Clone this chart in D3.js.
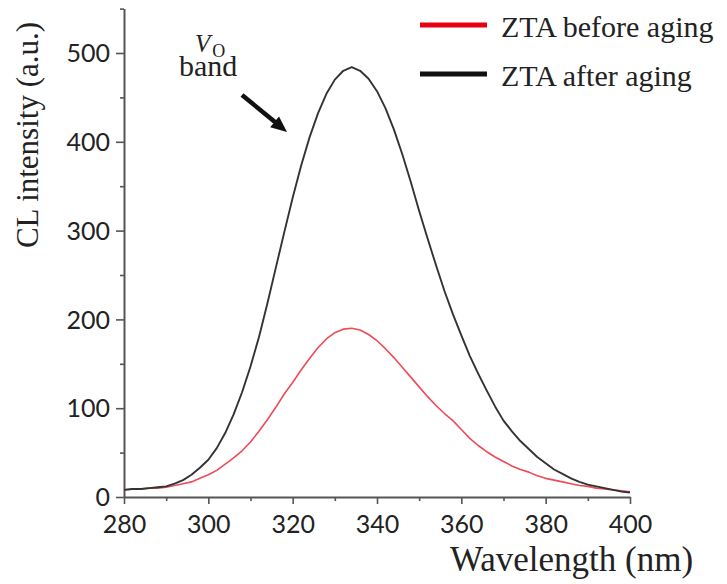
<!DOCTYPE html>
<html>
<head>
<meta charset="utf-8">
<script src="https://cdn.jsdelivr.net/npm/d3@7"></script>
<style>
  html, body { margin: 0; padding: 0; background: #fff; }
  svg { display: block; }
</style>
</head>
<body>
<svg id="chart" width="727" height="584"></svg>
<script>
// Cathodoluminescence spectra of ZTA, sampled every 2 nm
const wavelengths = [
  280, 282, 284, 286, 288, 290, 292, 294, 296, 298,
  300, 302, 304, 306, 308, 310, 312, 314, 316, 318,
  320, 322, 324, 326, 328, 330, 332, 334, 336, 338,
  340, 342, 344, 346, 348, 350, 352, 354, 356, 358,
  360, 362, 364, 366, 368, 370, 372, 374, 376, 378,
  380, 382, 384, 386, 388, 390, 392, 394, 396, 398,
  400
];
const beforeAging = [
  8, 9, 9, 10, 10, 11, 13, 15, 17, 21,
  25, 30, 37, 44, 52, 62, 74, 87, 101, 116,
  129, 143, 156, 168, 178, 185, 189, 190, 188, 183,
  176, 167, 157, 146, 135, 124, 113, 103, 94, 86,
  76, 66, 58, 51, 45, 40, 35, 31, 28, 24,
  21, 19, 17, 15, 13, 12, 10, 9, 8, 7,
  6
];
const afterAging = [
  8, 9, 9, 10, 11, 12, 15, 19, 25, 33,
  42, 55, 72, 93, 118, 147, 180, 218, 258, 298,
  337, 373, 405, 432, 454, 470, 480, 484, 480, 471,
  457, 438, 414, 386, 355, 322, 291, 261, 232, 206,
  182, 159, 139, 120, 102, 86, 74, 63, 54, 45,
  38, 31, 26, 21, 17, 14, 12, 10, 8, 6,
  5
];
const xTicks = [280, 300, 320, 340, 360, 380, 400];
const xMinorTicks = [290, 310, 330, 350, 370, 390];
const yTicks = [0, 100, 200, 300, 400, 500];
const yMinorTicks = [50, 150, 250, 350, 450, 550];
const seriesNames = ["ZTA before aging", "ZTA after aging"];

const svg = d3.select("#chart");
const serif = "'Liberation Serif', 'DejaVu Serif', serif";
const numFont = "Lato, 'Open Sans', sans-serif";
const axisColor = "#555";

const x = d3.scaleLinear().domain([280, 400]).range([124, 630]);
const y = d3.scaleLinear().domain([0, 550]).range([497, 8.6]);

// axes
function styleAxis(g) {
  g.select(".domain").attr("stroke", axisColor).attr("stroke-width", 2);
  g.selectAll(".tick line").attr("stroke", axisColor).attr("stroke-width", 1.6);
}

const xAxisG = svg.append("g").attr("transform", `translate(0,${y(0)})`)
  .call(d3.axisBottom(x).tickValues(xTicks).tickSize(7).tickSizeOuter(0).tickFormat(d3.format("d")))
  .call(styleAxis);
xAxisG.selectAll(".tick text")
  .attr("y", 36).attr("dy", 0)
  .attr("font-family", numFont).attr("font-size", 25).attr("fill", "#222");

svg.append("g").attr("transform", `translate(0,${y(0)})`)
  .call(d3.axisBottom(x).tickValues(xMinorTicks).tickSize(4).tickSizeOuter(0).tickFormat(""))
  .call(styleAxis)
  .select(".domain").remove();

const yAxisG = svg.append("g").attr("transform", `translate(${x(280)},0)`)
  .call(d3.axisLeft(y).tickValues(yTicks).tickSize(8).tickSizeOuter(0).tickFormat(d3.format("d")))
  .call(styleAxis);
yAxisG.selectAll(".tick text")
  .attr("x", -14).attr("dy", "0.35em")
  .attr("font-family", numFont).attr("font-size", 25).attr("fill", "#222");

svg.append("g").attr("transform", `translate(${x(280)},0)`)
  .call(d3.axisLeft(y).tickValues(yMinorTicks).tickSize(4).tickSizeOuter(0).tickFormat(""))
  .call(styleAxis)
  .select(".domain").remove();

// axis titles
svg.append("text")
  .attr("x", 450).attr("y", 571)
  .attr("font-family", serif).attr("font-size", 35).attr("fill", "#222")
  .text("Wavelength (nm)");

svg.append("text")
  .attr("transform", "translate(38,135) rotate(-90)")
  .attr("text-anchor", "middle")
  .attr("font-family", serif).attr("font-size", 31).attr("fill", "#222")
  .text("CL intensity (a.u.)");

// spectra
const line = d3.line()
  .x((d, i) => x(wavelengths[i]))
  .y(d => y(d));

svg.append("path")
  .datum(beforeAging)
  .attr("d", line)
  .attr("fill", "none")
  .attr("stroke", "#ef4a58")
  .attr("stroke-width", 1.6)
  .attr("stroke-linejoin", "round");

svg.append("path")
  .datum(afterAging)
  .attr("d", line)
  .attr("fill", "none")
  .attr("stroke", "#333")
  .attr("stroke-width", 1.9)
  .attr("stroke-linejoin", "round");

// legend
const legendColors = ["#e60012", "#111"];
const legend = svg.append("g");
seriesNames.forEach((name, i) => {
  const ly = 25 + i * 49;
  legend.append("line")
    .attr("x1", 420).attr("x2", 487)
    .attr("y1", ly).attr("y2", ly)
    .attr("stroke", legendColors[i]).attr("stroke-width", 5);
  legend.append("text")
    .attr("x", 501).attr("y", ly + 12)
    .attr("font-family", serif).attr("font-size", 30).attr("fill", "#222")
    .text(name);
});

// oxygen-vacancy band annotation
const note = svg.append("g").attr("fill", "#222");
const vo = note.append("text")
  .attr("x", 195).attr("y", 52)
  .attr("font-family", serif);
vo.append("tspan").attr("font-size", 25).attr("font-style", "italic").text("V");
vo.append("tspan").attr("font-size", 18).attr("dx", 2).attr("dy", 5).text("O");
note.append("text")
  .attr("x", 179).attr("y", 76)
  .attr("font-family", serif).attr("font-size", 30)
  .text("band");

note.append("line")
  .attr("x1", 242).attr("y1", 95)
  .attr("x2", 275).attr("y2", 122)
  .attr("stroke", "#111").attr("stroke-width", 4.5);
note.append("polygon")
  .attr("points", "287,132 270.2,127.2 279,116.4")
  .attr("fill", "#111");
</script>
</body>
</html>
